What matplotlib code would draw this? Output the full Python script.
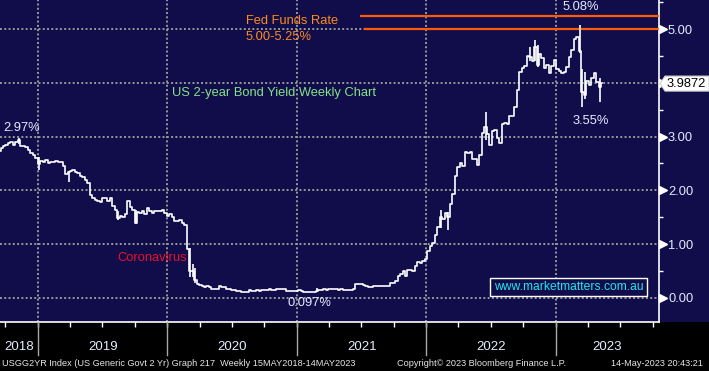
import numpy as np
import pandas as pd
import matplotlib
matplotlib.use("Agg")
import matplotlib.pyplot as plt
import matplotlib.dates as mdates
from matplotlib.patches import Rectangle, Polygon

# ---------------- data (weekly closes, US 2-year yield %) ----------------
start_week = "2018-09-14"
closes_2018 = [2.74, 2.78, 2.82, 2.84, 2.89, 2.90, 2.84, 2.90, 2.93, 2.83, 2.82, 2.80,
               2.75, 2.70, 2.66, 2.60]
closes_2019 = [2.49, 2.55, 2.52, 2.57, 2.50, 2.52, 2.53, 2.55, 2.53, 2.52, 2.45, 2.31,
               2.34, 2.36, 2.38, 2.34, 2.33, 2.27, 2.24, 2.19, 2.14, 1.92, 1.85, 1.82,
               1.80, 1.78, 1.86, 1.85, 1.81, 1.86, 1.71, 1.63, 1.48, 1.53, 1.50, 1.55,
               1.80, 1.69, 1.63, 1.40, 1.60, 1.58, 1.62, 1.55, 1.67, 1.61, 1.58, 1.61,
               1.61, 1.61, 1.63, 1.58]
closes_2020 = [1.53, 1.56, 1.50, 1.42, 1.43, 1.44, 1.40, 1.35, 0.91, 0.50, 0.49, 0.33,
               0.25, 0.23, 0.22, 0.20, 0.21, 0.19, 0.16, 0.17, 0.16, 0.21, 0.19, 0.19,
               0.17, 0.16, 0.15, 0.14, 0.13, 0.12, 0.11, 0.10, 0.11, 0.14, 0.13, 0.13,
               0.14, 0.13, 0.14, 0.15, 0.14, 0.16, 0.15, 0.15, 0.16, 0.16, 0.17, 0.17,
               0.12, 0.12, 0.12, 0.12]
closes_2021 = [0.12, 0.14, 0.12, 0.11, 0.10, 0.11, 0.11, 0.10, 0.13, 0.14, 0.15, 0.16,
               0.14, 0.16, 0.16, 0.16, 0.16, 0.15, 0.16, 0.15, 0.15, 0.15, 0.15, 0.16,
               0.25, 0.25, 0.25, 0.23, 0.22, 0.19, 0.20, 0.21, 0.22, 0.21, 0.21, 0.21,
               0.21, 0.22, 0.27, 0.27, 0.32, 0.40, 0.45, 0.50, 0.40, 0.51, 0.52, 0.50,
               0.59, 0.66, 0.64, 0.68, 0.73]
closes_2022 = [0.87, 0.97, 1.01, 1.17, 1.31, 1.50, 1.47, 1.57, 1.50, 1.75, 1.94, 2.27,
               2.44, 2.51, 2.46, 2.72, 2.70, 2.72, 2.58, 2.59, 2.48, 2.66, 3.06, 3.17,
               3.05, 2.84, 3.11, 3.13, 2.98, 2.88, 3.23, 3.25, 3.24, 3.39, 3.39, 3.56,
               3.87, 4.20, 4.28, 4.31, 4.50, 4.48, 4.41, 4.66, 4.33, 4.53, 4.47, 4.28,
               4.34, 4.18, 4.32, 4.43]
closes_2023 = [4.25, 4.23, 4.18, 4.20, 4.29, 4.49, 4.62, 4.81, 4.86, 4.59, 3.84, 3.77,
               4.03, 3.97, 4.09, 4.18, 4.01, 3.92, 3.99]

# weekly high/low ranges for the most volatile weeks
wick_dates = ["2018-11-09", "2019-01-04", "2019-03-29", "2019-08-16", "2019-10-04",
              "2020-03-06", "2020-03-13", "2020-03-20", "2021-02-26", "2022-02-11",
              "2022-03-04", "2022-06-17", "2022-10-21", "2022-11-04", "2022-11-11",
              "2023-03-10", "2023-03-17", "2023-03-24", "2023-05-05"]
wick_low = [2.86, 2.38, 2.15, 1.45, 1.37, 0.38, 0.38, 0.28, 0.10, 1.30,
            1.26, 2.93, 4.40, 4.40, 4.30, 4.55, 3.55, 3.70, 3.65]
wick_high = [2.97, 2.62, 2.36, 1.62, 1.63, 0.92, 0.62, 0.55, 0.18, 1.63,
             1.60, 3.45, 4.66, 4.80, 4.70, 5.08, 4.26, 4.20, 4.10]

fed_funds_low, fed_funds_high = 5.00, 5.25
fed_line_start_high = "2021-06-27"
fed_line_start_low = "2021-07-10"
last_value_label = "3.9872"
last_value = 3.9872

y_major = [0, 1, 2, 3, 5]
y_major_labels = ["0.00", "1.00", "2.00", "3.00", "5.00"]
grid_levels = [0, 1, 2, 3, 4, 5]
years = [2018, 2019, 2020, 2021, 2022, 2023]

x_left, x_right = pd.Timestamp("2018-09-16"), pd.Timestamp("2023-10-19")
y_bottom, y_top = -0.4525, 5.544

# ---------------- styling ----------------
NAVY = "#100D4A"
GRID = "#989898"
LABEL = "#E4ECFF"
plt.rcParams["font.family"] = ["Liberation Sans", "DejaVu Sans"]

W, H = 709, 371
PLOT_R, PLOT_B = 659, 322


def fx(x):
    return x / W


def fy(y):
    return 1 - y / H


closes = closes_2018 + closes_2019 + closes_2020 + closes_2021 + closes_2022 + closes_2023
dates = pd.date_range(start_week, periods=len(closes), freq="7D")

fig = plt.figure(figsize=(W / 100, H / 100), dpi=100, facecolor="black")
fig.add_artist(Rectangle((0, fy(PLOT_B)), 1, PLOT_B / H, transform=fig.transFigure,
                         facecolor=NAVY, edgecolor="none", zorder=-5))
ax = fig.add_axes([0, fy(PLOT_B), PLOT_R / W, PLOT_B / H])
ax.set_facecolor(NAVY)
ax.set_xlim(x_left, x_right)
ax.set_ylim(y_bottom, y_top)

for s in ["left", "top"]:
    ax.spines[s].set_visible(False)
for s in ["right", "bottom"]:
    ax.spines[s].set_color("white")
    ax.spines[s].set_linewidth(1.2)

# grid
for g in grid_levels:
    ax.axhline(g, color=GRID, lw=1.4, ls=(0, (1, 1.2)), zorder=1)
for yr in years[1:]:
    ax.axvline(pd.Timestamp(f"{yr}-01-01"), color=GRID, lw=1.4, ls=(0, (1, 1.2)), zorder=1)

# fed funds lines
ax.hlines(fed_funds_high, pd.Timestamp(fed_line_start_high), x_right, color="#FF5A0A", lw=1.6, zorder=3)
ax.hlines(fed_funds_low, pd.Timestamp(fed_line_start_low), x_right, color="#FF5A0A", lw=1.6, zorder=3)

# price line
ax.plot(dates, closes, drawstyle="steps-mid", color="white", lw=1.2, zorder=4)
ax.vlines(pd.to_datetime(wick_dates), wick_low, wick_high, color="white", lw=1.2, zorder=4)

# y axis on the right
ax.yaxis.tick_right()
ax.set_yticks(y_major)
ax.set_yticklabels(y_major_labels)
ax.set_yticks(np.arange(0.5, 5.6, 1.0), minor=True)
ax.tick_params(axis="y", which="major", length=0, pad=6.5, labelcolor=LABEL, labelsize=9.3)
ax.tick_params(axis="y", which="minor", length=3, width=1, color="white", direction="out")
ytr = ax.get_yaxis_transform()
ax.plot(np.full(len(grid_levels), 1.0055), grid_levels, transform=ytr, ls="none", marker=">",
        ms=5.5, color="white", clip_on=False, zorder=5)

# x axis: quarterly ticks, year separators and labels
ax.xaxis.set_major_locator(mdates.MonthLocator(bymonth=[1, 4, 7, 10]))
ax.tick_params(axis="x", which="major", length=3.5, width=1, color="white", direction="out",
               labelbottom=False)
xtr = ax.get_xaxis_transform()
sep_bottom = (PLOT_B - 355) / PLOT_B
for yr in years[1:]:
    d = pd.Timestamp(f"{yr}-01-01")
    ax.plot([d, d], [0, sep_bottom], transform=xtr, color="#A8A8A8", lw=1, clip_on=False, zorder=5)
label_y = (PLOT_B - 347) / PLOT_B
for yr in years:
    a = max(pd.Timestamp(f"{yr}-01-01"), x_left)
    b = min(pd.Timestamp(f"{yr + 1}-01-01"), x_right)
    c = a + (b - a) / 2
    ax.text(c, label_y, str(yr), transform=xtr, ha="center", va="center", color=LABEL,
            fontsize=9.5, clip_on=False)

# last value box
y_disp = ax.transData.transform((0, last_value))[1]
yc = H - y_disp
half = 7.5
poly = Polygon([(fx(660), fy(yc)), (fx(665), fy(yc - half)), (fx(709), fy(yc - half)),
                (fx(709), fy(yc + half)), (fx(665), fy(yc + half))], closed=True,
               transform=fig.transFigure, facecolor="white", edgecolor="#D0D0D0", lw=0.8, zorder=10)
fig.add_artist(poly)
fig.text(fx(667), fy(yc), last_value_label, color="black", fontsize=9.3, va="center", ha="left", zorder=11)

# annotations
ORANGE = "#FF8A1E"
fig.text(fx(246), fy(21), "Fed Funds Rate", color=ORANGE, fontsize=9.3, va="center")
fig.text(fx(246), fy(37), "5.00-5.25%", color=ORANGE, fontsize=9.3, va="center")
fig.text(fx(172), fy(93), "US 2-year Bond Yield Weekly Chart", color="#86E28A", fontsize=9.3, va="center")
fig.text(fx(3), fy(128), "2.97%", color=LABEL, fontsize=9.3, va="center")
fig.text(fx(563), fy(7), "5.08%", color=LABEL, fontsize=9.3, va="center")
fig.text(fx(573), fy(121), "3.55%", color=LABEL, fontsize=9.3, va="center")
fig.text(fx(287), fy(303), "0.097%", color=LABEL, fontsize=9.3, va="center")
fig.text(fx(117), fy(258), "Coronavirus", color="#E8102A", fontsize=9.3, va="center")

# watermark box
fig.add_artist(Rectangle((fx(490), fy(296)), (647 - 490) / W, (296 - 278) / H,
                         transform=fig.transFigure, facecolor=NAVY, edgecolor="white", lw=1, zorder=8))
fig.text(fx(568.5), fy(287), "www.marketmatters.com.au", color="#22E4F2", fontsize=8.7,
         ha="center", va="center", zorder=9)

# footer
fig.text(fx(2), fy(363), "USGG2YR Index (US Generic Govt 2 Yr) Graph 217  Weekly 15MAY2018-14MAY2023",
         color="#E6E6E6", fontsize=6.6, va="center")
fig.text(fx(397), fy(363), "Copyright\u00a9 2023 Bloomberg Finance L.P.", color="#E6E6E6",
         fontsize=6.6, va="center")
fig.text(fx(611), fy(363), "14-May-2023 20:43:21", color="#E6E6E6", fontsize=6.6, va="center")

fig.savefig("out.png", dpi=100, facecolor="black")
